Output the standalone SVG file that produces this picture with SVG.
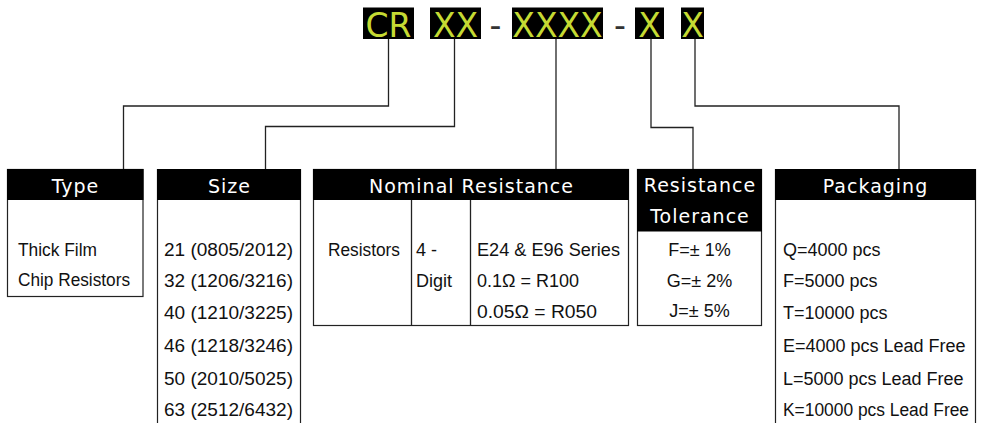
<svg xmlns="http://www.w3.org/2000/svg" width="982" height="423" viewBox="0 0 982 423">
<style>
.code{font-family:"DejaVu Sans",Verdana,sans-serif;font-size:33px;fill:#c5da33;text-anchor:middle}
.dash{font-family:"DejaVu Sans",Verdana,sans-serif;font-size:33px;fill:#333;text-anchor:middle}
.hd{font-family:"DejaVu Sans",Verdana,sans-serif;font-size:19px;letter-spacing:1px;fill:#fff;text-anchor:middle}
.bd{font-family:"Liberation Sans",Arial,sans-serif;font-size:18px;fill:#111}
.mid{text-anchor:middle}
.box{fill:#fff;stroke:#222;stroke-width:1.2}
.hbar{fill:#000}
.ln{fill:none;stroke:#222;stroke-width:1.3}
</style>
<rect width="982" height="423" fill="#fff"/>
<g id="code">
<rect x="363" y="7.5" width="51" height="31.5" fill="#000"/>
<rect x="430" y="7.5" width="51" height="31.5" fill="#000"/>
<rect x="512" y="7.5" width="91" height="31.5" fill="#000"/>
<rect x="635" y="7.5" width="29" height="31.5" fill="#000"/>
<rect x="681" y="7.5" width="23" height="31.5" fill="#000"/>
<text class="code" x="388.5" y="37">CR</text>
<text class="code" x="455.5" y="37">XX</text>
<text class="dash" x="495.5" y="37">-</text>
<text class="code" x="557.5" y="37">XXXX</text>
<text class="dash" x="620" y="37">-</text>
<text class="code" x="649.5" y="37">X</text>
<text class="code" x="692.5" y="37">X</text>
</g>
<g id="connectors">
<polyline class="ln" points="388.5,39 388.5,106 123.5,106 123.5,170"/>
<polyline class="ln" points="454.5,39 454.5,126.5 265.5,126.5 265.5,170"/>
<polyline class="ln" points="556,39 556,170"/>
<polyline class="ln" points="651,39 651,127.5 693,127.5 693,170"/>
<polyline class="ln" points="695,39 695,106 899,106 899,170"/>
</g>
<g id="type">
<rect class="box" x="7.5" y="169.5" width="135.5" height="127"/>
<rect class="hbar" x="7" y="169" width="136.5" height="31"/>
<text class="hd" x="75.5" y="193">Type</text>
<text class="bd" x="18" y="256" textLength="79" lengthAdjust="spacingAndGlyphs">Thick Film</text>
<text class="bd" x="18" y="286" textLength="112" lengthAdjust="spacingAndGlyphs">Chip Resistors</text>
</g>
<g id="size">
<path class="box" d="M157.5,424 V169.5 H300.5 V424"/>
<rect class="hbar" x="157" y="169" width="144" height="31"/>
<text class="hd" x="229.5" y="193">Size</text>
<text class="bd" x="164" y="256" textLength="129" lengthAdjust="spacingAndGlyphs">21 (0805/2012)</text>
<text class="bd" x="164" y="287" textLength="129" lengthAdjust="spacingAndGlyphs">32 (1206/3216)</text>
<text class="bd" x="164" y="319" textLength="129" lengthAdjust="spacingAndGlyphs">40 (1210/3225)</text>
<text class="bd" x="164" y="352" textLength="129" lengthAdjust="spacingAndGlyphs">46 (1218/3246)</text>
<text class="bd" x="164" y="385" textLength="129" lengthAdjust="spacingAndGlyphs">50 (2010/5025)</text>
<text class="bd" x="164" y="416" textLength="129" lengthAdjust="spacingAndGlyphs">63 (2512/6432)</text>
</g>
<g id="nominal">
<rect class="box" x="313.5" y="169.5" width="315" height="156"/>
<rect class="hbar" x="313" y="169" width="316" height="31"/>
<line class="ln" x1="411.5" y1="200" x2="411.5" y2="325.5"/>
<line class="ln" x1="470.5" y1="200" x2="470.5" y2="325.5"/>
<text class="hd" x="471.5" y="193">Nominal Resistance</text>
<text class="bd" x="328" y="256" textLength="72" lengthAdjust="spacingAndGlyphs">Resistors</text>
<text class="bd" x="416" y="256">4 -</text>
<text class="bd" x="416" y="287">Digit</text>
<text class="bd" x="477" y="256" textLength="143" lengthAdjust="spacingAndGlyphs">E24 &amp; E96 Series</text>
<text class="bd" x="477" y="287">0.1Ω  = R100</text>
<text class="bd" x="477" y="318" textLength="120" lengthAdjust="spacingAndGlyphs">0.05Ω = R050</text>
</g>
<g id="tolerance">
<rect class="box" x="637.5" y="169.5" width="124" height="156"/>
<rect class="hbar" x="637" y="169" width="125" height="62.5"/>
<text class="hd" x="700" y="192">Resistance</text>
<text class="hd" x="700" y="223">Tolerance</text>
<text class="bd mid" x="699.5" y="256">F=± 1%</text>
<text class="bd mid" x="699.5" y="287">G=± 2%</text>
<text class="bd mid" x="699.5" y="317">J=± 5%</text>
</g>
<g id="packaging">
<path class="box" d="M775.5,424 V169.5 H975.5 V424"/>
<rect class="hbar" x="775" y="169" width="201" height="31"/>
<text class="hd" x="875.5" y="193">Packaging</text>
<text class="bd" x="783" y="256">Q=4000 pcs</text>
<text class="bd" x="783" y="287">F=5000 pcs</text>
<text class="bd" x="783" y="319">T=10000 pcs</text>
<text class="bd" x="783" y="352">E=4000 pcs Lead Free</text>
<text class="bd" x="783" y="385">L=5000 pcs Lead Free</text>
<text class="bd" x="783" y="416" textLength="186" lengthAdjust="spacingAndGlyphs">K=10000 pcs Lead Free</text>
</g>
</svg>
